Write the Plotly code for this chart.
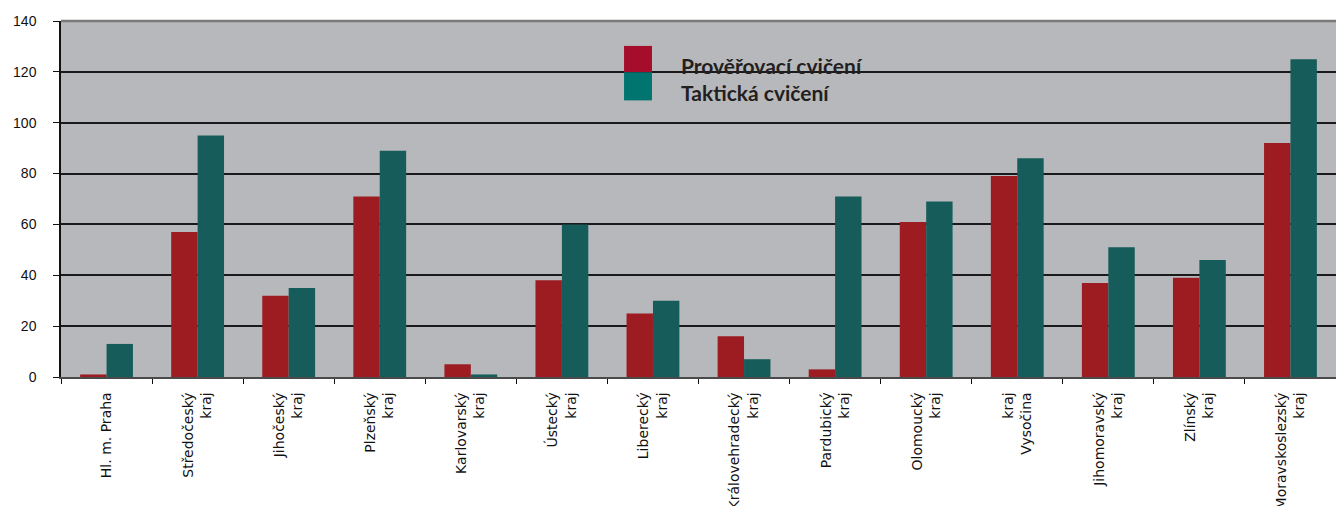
import plotly.graph_objects as go

categories = ["Hl. m. Praha", "Středočeský<br>kraj", "Jihočeský<br>kraj", "Plzeňský<br>kraj",
              "Karlovarský<br>kraj", "Ústecký<br>kraj", "Liberecký<br>kraj", "Královehradecký<br>kraj",
              "Pardubický<br>kraj", "Olomoucký<br>kraj", "kraj<br>Vysočina", "Jihomoravský<br>kraj",
              "Zlínský<br>kraj", "Moravskoslezský<br>kraj"]
proverovaci = [1, 57, 32, 71, 5, 38, 25, 16, 3, 61, 79, 37, 39, 92]
takticka = [13, 95, 35, 89, 1, 60, 30, 7, 71, 69, 86, 51, 46, 125]
series_names = ["Prověřovací cvičení", "Taktická cvičení"]
bar_colors = ["#9C1C22", "#165C5A"]
legend_colors = ["#A50D2A", "#007570"]
y_ticks = [0, 20, 40, 60, 80, 100, 120, 140]

fig = go.Figure()
for name, vals, col in zip(series_names, [proverovaci, takticka], bar_colors):
    fig.add_trace(go.Bar(x=categories, y=vals, name=name, marker=dict(color=col, line=dict(width=0)),
                         showlegend=False, hoverinfo="skip"))

# custom legend
sq_x0, sq_x1 = 0.4416, 0.4635
sq_rows = [(0.856, 0.930), (0.777, 0.856)]
txt_y = [0.874, 0.799]
for (y0, y1), col, name, ty in zip(sq_rows, legend_colors, series_names, txt_y):
    fig.add_shape(type="rect", xref="paper", yref="paper", x0=sq_x0, x1=sq_x1, y0=y0, y1=y1,
                  fillcolor=col, line=dict(width=0), layer="above")
    fig.add_annotation(xref="paper", yref="paper", x=0.4847, y=ty, text="<b>" + name + "</b>",
                       showarrow=False, xanchor="left", yanchor="middle",
                       font=dict(family="Lato", size=21, color="#231F20"))

# top border line
fig.add_shape(type="line", xref="paper", yref="paper", x0=0, x1=1, y0=1, y1=1,
              line=dict(color="#7A7A7A", width=2.5), layer="above")

fig.update_layout(
    width=1336, height=506,
    margin=dict(l=61, r=0, t=21, b=129),
    paper_bgcolor="white", plot_bgcolor="#B7B8BB",
    barmode="group", bargap=0.42, bargroupgap=0,
    xaxis=dict(tickangle=-90, ticks="outside", ticklen=5, tickcolor="#111", tickson="boundaries",
               showline=True, linecolor="#4A4A4A", linewidth=1.5, showgrid=False,
               ticklabelstandoff=8, automargin=False,
               tickfont=dict(family="DejaVu Sans", size=14, color="#111")),
    yaxis=dict(range=[0, 140], tickvals=y_ticks, ticks="outside", ticklen=6, tickcolor="#111",
               showline=True, linecolor="#111", linewidth=1.5, showgrid=True, automargin=False,
               gridcolor="#1a1a1a", gridwidth=1.5, zeroline=False, ticklabelstandoff=14,
               tickfont=dict(family="Liberation Sans", size=14, color="#111")),
)

fig.write_html("out.html", config={"displayModeBar": False},
               post_script="document.body.style.margin='0';document.body.style.overflow='hidden';")
